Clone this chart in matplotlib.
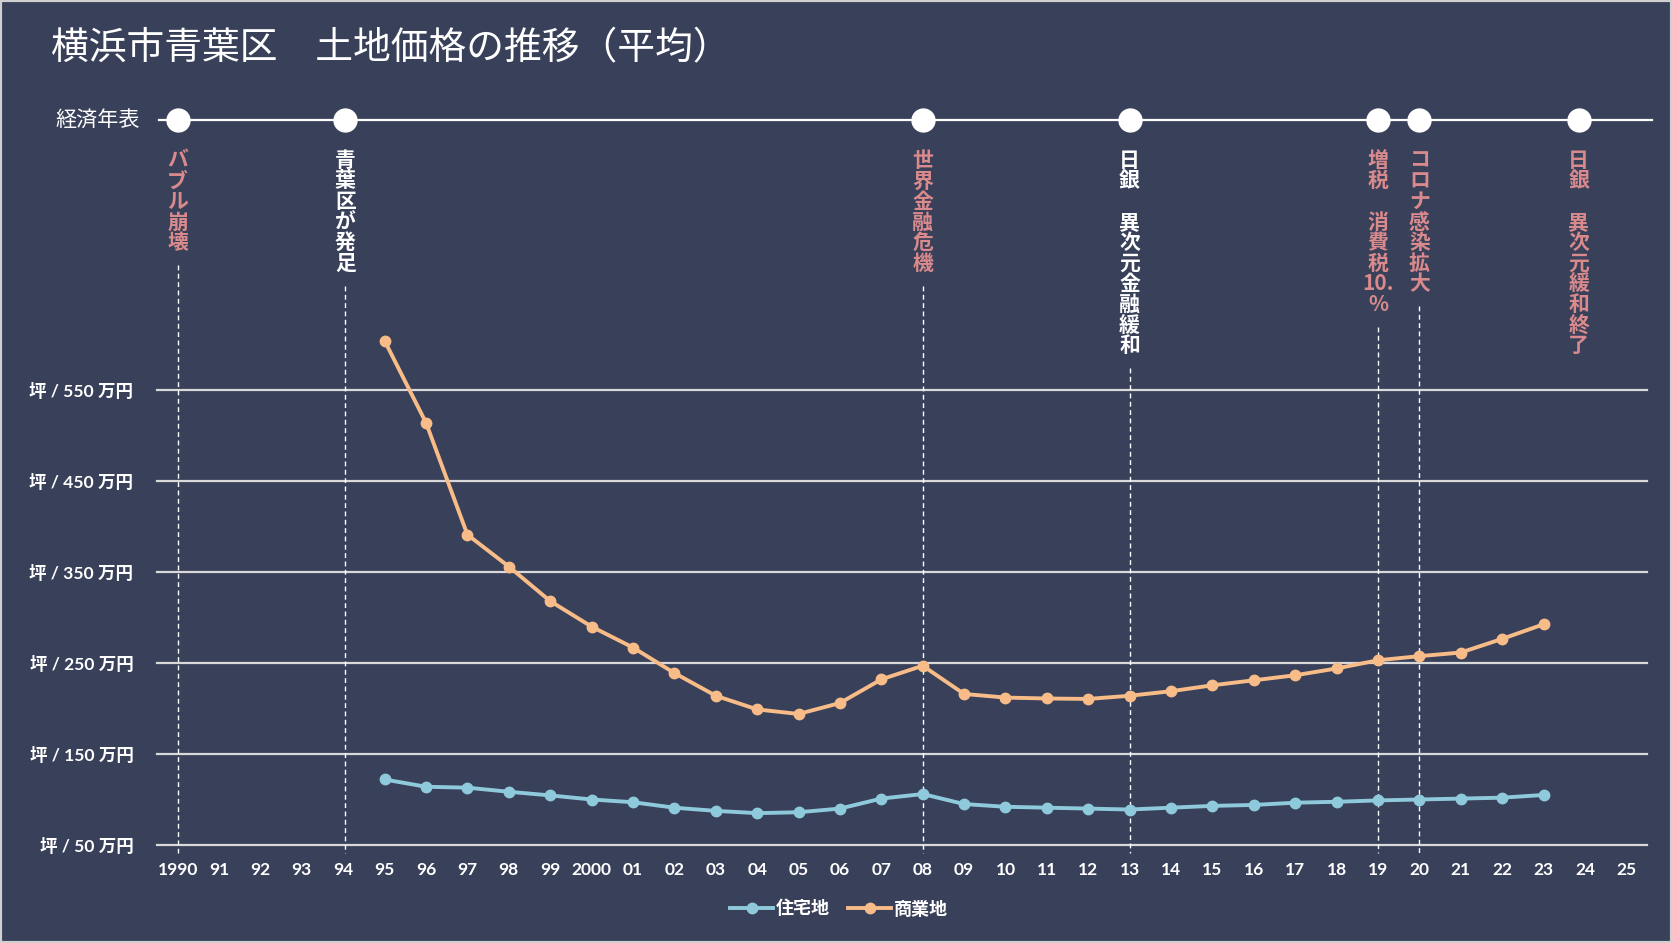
import matplotlib
matplotlib.use("Agg")
import matplotlib.pyplot as plt
from matplotlib.transforms import blended_transform_factory
from matplotlib.patches import Rectangle
from matplotlib.lines import Line2D

plt.rcParams['font.family'] = ['Noto Sans CJK JP', 'DejaVu Sans']

# ---------------- data ----------------
title = "横浜市青葉区　土地価格の推移（平均）"
years = list(range(1995, 2024))
residential = [122, 114, 113, 108.5, 104.5, 100, 97, 91, 87.5, 85, 86, 90, 101, 106,
               95, 92, 91, 90, 89, 91, 93, 94, 96.5, 97.5, 99, 100, 101, 102, 105]
commercial = [604, 514, 391, 356, 318, 290, 267, 239, 214, 199, 194, 206, 232, 247,
              216, 212, 211, 210.5, 214, 219, 225.5, 231, 236.5, 244, 253, 257.5, 261.5, 276.5, 292.5]
series_names = ["住宅地", "商業地"]

y_ticks = [50, 150, 250, 350, 450, 550]
y_tick_labels = [f"坪 / {v} 万円" for v in y_ticks]
x_ticks = list(range(1990, 2026))
x_tick_labels = ["1990"] + [f"{y % 100:02d}" for y in range(1991, 2000)] + ["2000"] + \
                [f"{y % 100:02d}" for y in range(2001, 2026)]

timeline_label = "経済年表"
event_years = [1990, 1994.05, 2008, 2013, 2019, 2020, 2023.85]
event_texts = [
    ["バ", "ブ", "ル", "崩", "壊"],
    ["青", "葉", "区", "が", "発", "足"],
    ["世", "界", "金", "融", "危", "機"],
    ["日", "銀", "　", "異", "次", "元", "金", "融", "緩", "和"],
    ["増", "税", "　", "消", "費", "税", "10.", "%"],
    ["コ", "ロ", "ナ", "感", "染", "拡", "大"],
    ["日", "銀", "　", "異", "次", "元", "緩", "和", "終", "了"],
]
event_highlight = [True, False, True, False, True, True, True]
event_dashed = [True, True, True, True, True, True, False]

# ---------------- style ----------------
BG = "#394059"
ORANGE = "#f8bc88"
BLUE = "#8ecadb"
PINK = "#d98a8c"
GRID = "#d9d9d9"
W, H = 1672, 943

fig = plt.figure(figsize=(W / 100, H / 100), dpi=100, facecolor=BG)

ax_left, ax_right = 157, 1647
ax_bottom_px, ylim_top = 845, 650
px_per_unit = 0.91
ax_top_px = ax_bottom_px - (ylim_top - 50) * px_per_unit
ax = fig.add_axes([ax_left / W, 1 - ax_bottom_px / H, (ax_right - ax_left) / W,
                   (ax_bottom_px - ax_top_px) / H])
ax.set_facecolor(BG)
ax.set_xlim(1989.5, 2025.5)
ax.set_ylim(50, ylim_top)
for s in ax.spines.values():
    s.set_visible(False)

for v in y_ticks:
    ax.axhline(v, color=GRID, lw=1.6, zorder=1, clip_on=False)

num_font = ['Lato', 'Noto Sans CJK JP']
ax.set_yticks(y_ticks)
ax.set_yticklabels(y_tick_labels, fontsize=12.6, fontweight='bold', color='white', family=num_font)
ax.set_xticks(x_ticks)
ax.set_xticklabels(x_tick_labels, fontsize=12.5, fontweight='bold', color='white', family=num_font)
ax.tick_params(axis='y', length=0, pad=17)
ax.tick_params(axis='x', length=0, pad=12)

ax.plot(years, residential, color=BLUE, lw=2.8, marker='o', ms=7.5, zorder=4, label=series_names[0])
ax.plot(years, commercial, color=ORANGE, lw=2.8, marker='o', ms=7.5, zorder=4, label=series_names[1])

# ---------------- timeline ----------------
bt = blended_transform_factory(ax.transData, fig.transFigure)
tl_y = 1 - 119.5 / H
fig.add_artist(Line2D([159 / W, 1652 / W], [tl_y, tl_y], color='white', lw=1.6))
ax.plot(event_years, [tl_y] * len(event_years), 'o', ms=16.5, color='white',
        transform=bt, clip_on=False, zorder=5)
fig.text(140 / W, 1 - 120 / H, timeline_label, ha='right', va='center', fontsize=15.2, color='white')

pitch = 20.6
top0 = 150
for x, chars, hl, dashed in zip(event_years, event_texts, event_highlight, event_dashed):
    col = PINK if hl else 'white'
    for i, ch in enumerate(chars):
        yc = top0 + (i + 0.5) * pitch
        ax.text(x, 1 - yc / H, ch, transform=bt, ha='center', va='center', fontsize=15,
                fontweight='bold', color=col, clip_on=False)
    if dashed:
        y0 = top0 + len(chars) * pitch + 12
        ax.plot([x, x], [1 - y0 / H, 1 - 853 / H], transform=bt, color='white', lw=1.0,
                ls=(0, (3.5, 2.5)), clip_on=False, zorder=3)

# ---------------- title ----------------
fig.text(51 / W, 1 - 48 / H, title, ha='left', va='center', fontsize=27.2, color='white')

# ---------------- legend ----------------
leg = fig.legend(loc='center', bbox_to_anchor=(839 / W, 1 - 909 / H), ncol=2, frameon=False,
                 handlelength=2.4, handletextpad=0.15, columnspacing=1.0,
                 prop={'size': 13, 'weight': 'bold', 'family': ['Noto Sans CJK JP']})
for t in leg.get_texts():
    t.set_color('white')

fig.add_artist(Rectangle((0, 0), 1, 1, transform=fig.transFigure, fill=False,
                         edgecolor='#d0d0d0', lw=3))

fig.savefig("out.png", dpi=100, facecolor=BG)
